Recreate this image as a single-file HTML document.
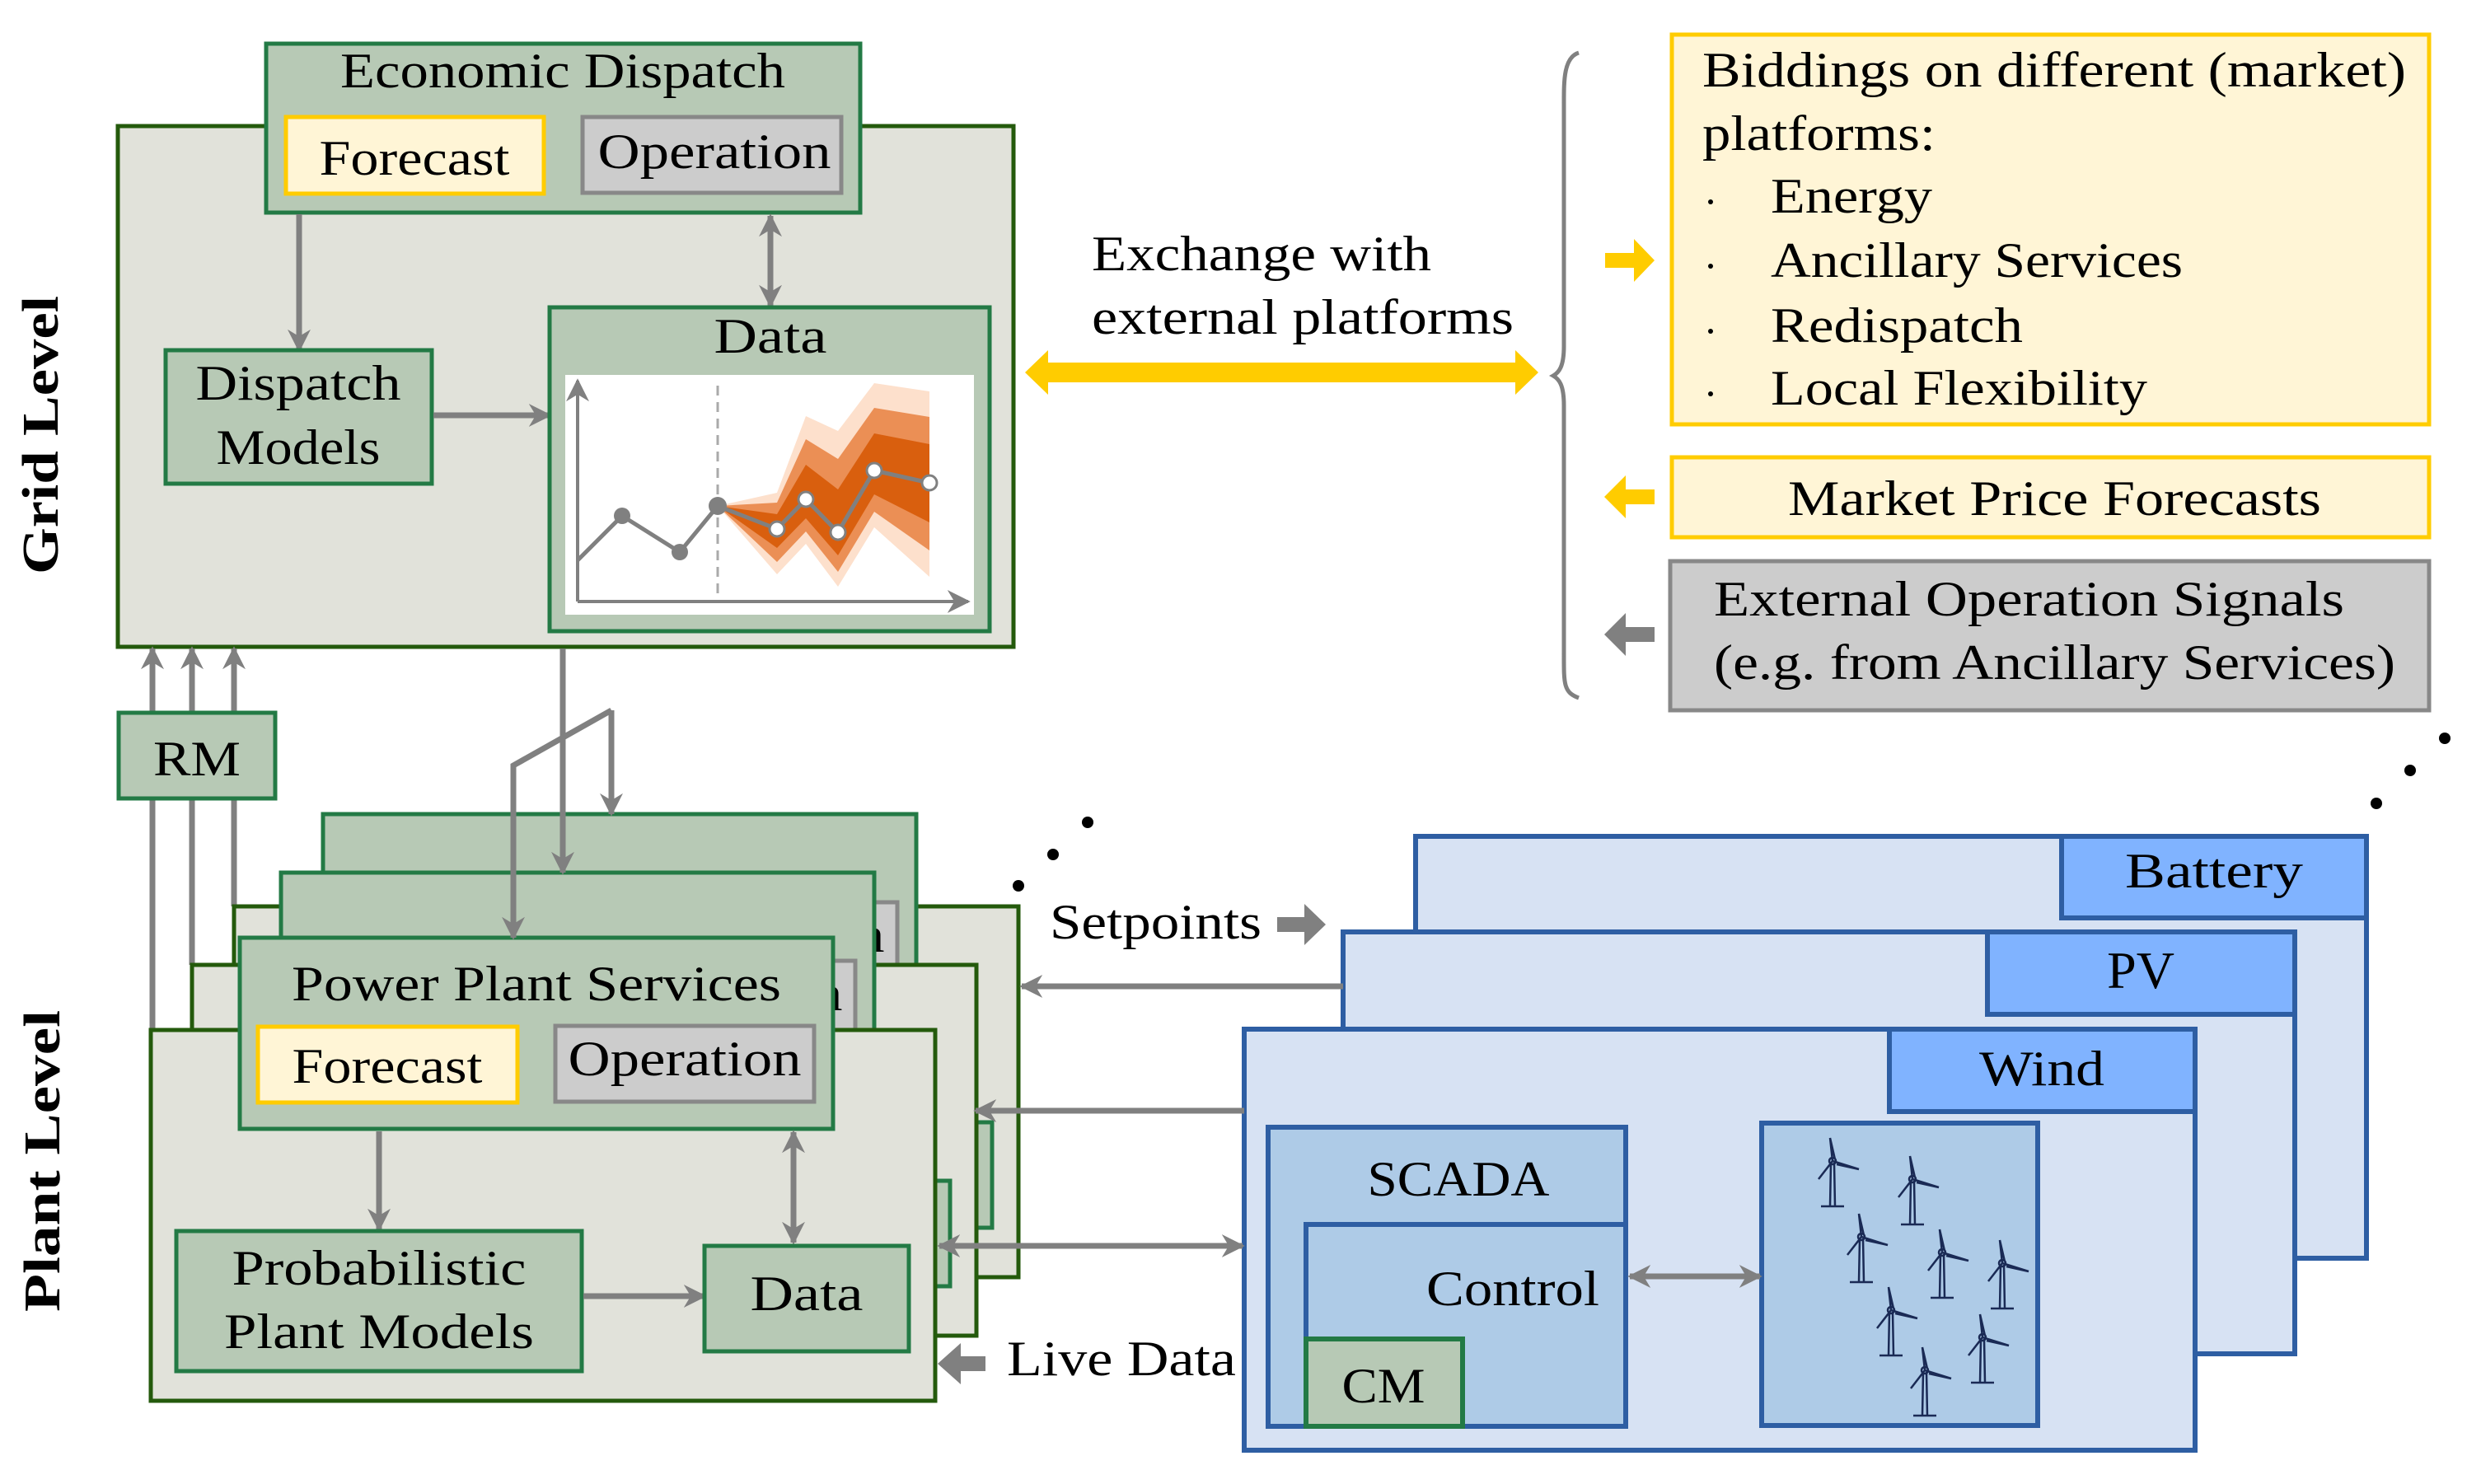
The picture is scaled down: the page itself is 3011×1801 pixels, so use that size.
<!DOCTYPE html>
<html><head><meta charset="utf-8"><style>html,body{margin:0;padding:0;background:#fff}svg{display:block}</style></head><body>
<svg width="3011" height="1801" viewBox="0 0 3011 1801" xmlns="http://www.w3.org/2000/svg" font-family="'Liberation Serif', serif" font-size="60">
<defs>
<marker id="ah" viewBox="0 0 10 10" refX="9" refY="5" markerWidth="28" markerHeight="30" markerUnits="userSpaceOnUse" orient="auto-start-reverse"><path d="M0,0 L10,5 L0,10 L3,5 z" fill="#808080"/></marker>
</defs>
<rect width="3011" height="1801" fill="#fff"/>

<!-- GRID LEVEL -->
<rect x="143" y="153" width="1087" height="632" fill="#e1e2da" stroke="#245a0c" stroke-width="5"/>
<rect x="323" y="53" width="721" height="205" fill="#b7c9b5" stroke="#237a45" stroke-width="5"/>
<text x="683" y="106" text-anchor="middle" textLength="540" lengthAdjust="spacingAndGlyphs">Economic Dispatch</text>
<rect x="347" y="142" width="313" height="93" fill="#fff5d6" stroke="#ffcc00" stroke-width="5"/>
<text x="503" y="212" text-anchor="middle" textLength="231" lengthAdjust="spacingAndGlyphs">Forecast</text>
<rect x="707" y="142" width="314" height="92" fill="#cccccc" stroke="#888" stroke-width="5"/>
<text x="867" y="204" text-anchor="middle" textLength="283" lengthAdjust="spacingAndGlyphs">Operation</text>
<line x1="363" y1="260" x2="363" y2="425" stroke="#808080" stroke-width="7" marker-end="url(#ah)"/>
<line x1="935" y1="262" x2="935" y2="371" stroke="#808080" stroke-width="7" marker-start="url(#ah)" marker-end="url(#ah)"/>
<rect x="201" y="425" width="323" height="162" fill="#b7c9b5" stroke="#237a45" stroke-width="5"/>
<text x="362" y="485" text-anchor="middle" textLength="249" lengthAdjust="spacingAndGlyphs">Dispatch</text>
<text x="362" y="563" text-anchor="middle" textLength="199" lengthAdjust="spacingAndGlyphs">Models</text>
<line x1="526" y1="504" x2="667" y2="504" stroke="#808080" stroke-width="7" marker-end="url(#ah)"/>
<rect x="667" y="373" width="534" height="393" fill="#b7c9b5" stroke="#237a45" stroke-width="5"/>
<text x="935" y="428" text-anchor="middle" textLength="137" lengthAdjust="spacingAndGlyphs">Data</text>
<rect x="686" y="455" width="496" height="291" fill="#fff"/>
<!-- chart -->
<polygon points="871,614 943,598 978,505 1017,523 1061,465 1128,475 1128,700 1061,640 1017,712 978,660 943,697" fill="#fde0cc"/>
<polygon points="871,614 943,610 978,533 1017,557 1061,495 1128,506 1128,668 1061,621 1017,694 978,645 943,682" fill="#eb8f55"/>
<polygon points="871,614 943,624 978,564 1017,594 1061,526 1128,539 1128,634 1061,600 1017,674 978,629 943,665" fill="#d95f0e"/>
<line x1="871" y1="468" x2="871" y2="730" stroke="#aaa" stroke-width="3" stroke-dasharray="12,8"/>
<line x1="701" y1="730" x2="701" y2="462" stroke="#808080" stroke-width="4" marker-end="url(#ah)"/>
<line x1="701" y1="730" x2="1175" y2="730" stroke="#808080" stroke-width="4" marker-end="url(#ah)"/>
<polyline points="701,680 755,626 825,670 871,614 943,642 978,606 1017,646 1061,571 1128,586" fill="none" stroke="#808080" stroke-width="5"/>
<circle cx="755" cy="626" r="10" fill="#808080"/><circle cx="825" cy="670" r="10" fill="#808080"/><circle cx="871" cy="614" r="11" fill="#808080"/>
<g fill="#fff" stroke="#808080" stroke-width="3"><circle cx="943" cy="642" r="9"/><circle cx="978" cy="606" r="9"/><circle cx="1017" cy="646" r="9"/><circle cx="1061" cy="571" r="9"/><circle cx="1128" cy="586" r="9"/></g>

<text transform="translate(70,528) rotate(-90)" text-anchor="middle" font-weight="bold" font-size="62" textLength="338" lengthAdjust="spacingAndGlyphs">Grid Level</text>
<text transform="translate(72,1409) rotate(-90)" text-anchor="middle" font-weight="bold" font-size="62" textLength="366" lengthAdjust="spacingAndGlyphs">Plant Level</text>

<!-- RM -->
<g stroke="#808080" stroke-width="7" fill="none">
<line x1="185" y1="1250" x2="185" y2="787" marker-end="url(#ah)"/>
<line x1="233" y1="1171" x2="233" y2="787" marker-end="url(#ah)"/>
<line x1="284" y1="1100" x2="284" y2="787" marker-end="url(#ah)"/>
</g>
<rect x="144" y="865" width="190" height="104" fill="#b7c9b5" stroke="#237a45" stroke-width="5"/>
<text x="239" y="941" text-anchor="middle" textLength="106" lengthAdjust="spacingAndGlyphs">RM</text>

<!-- PLANT LAYERS -->
<g transform="translate(101,-150)">
<rect x="183" y="1250" width="952" height="450" fill="#e1e2da" stroke="#245a0c" stroke-width="5"/>
<rect x="214" y="1494" width="492" height="170" fill="#b7c9b5" stroke="#237a45" stroke-width="5"/>
<rect x="855" y="1512" width="248" height="128" fill="#b7c9b5" stroke="#237a45" stroke-width="5"/>
<rect x="291" y="1138" width="720" height="232" fill="#b7c9b5" stroke="#237a45" stroke-width="5"/>
<rect x="313" y="1246" width="315" height="92" fill="#fff5d6" stroke="#ffcc00" stroke-width="5"/>
<rect x="674" y="1245" width="314" height="92" fill="#cccccc" stroke="#888" stroke-width="5"/>
<text x="831" y="1305" text-anchor="middle" textLength="283" lengthAdjust="spacingAndGlyphs">Operation</text>
</g>
<g transform="translate(50,-79)">
<rect x="183" y="1250" width="952" height="450" fill="#e1e2da" stroke="#245a0c" stroke-width="5"/>
<rect x="214" y="1494" width="492" height="170" fill="#b7c9b5" stroke="#237a45" stroke-width="5"/>
<rect x="855" y="1512" width="248" height="128" fill="#b7c9b5" stroke="#237a45" stroke-width="5"/>
<rect x="291" y="1138" width="720" height="232" fill="#b7c9b5" stroke="#237a45" stroke-width="5"/>
<rect x="313" y="1246" width="315" height="92" fill="#fff5d6" stroke="#ffcc00" stroke-width="5"/>
<rect x="674" y="1245" width="314" height="92" fill="#cccccc" stroke="#888" stroke-width="5"/>
<text x="831" y="1305" text-anchor="middle" textLength="283" lengthAdjust="spacingAndGlyphs">Operation</text>
</g>
<g>
<rect x="183" y="1250" width="952" height="450" fill="#e1e2da" stroke="#245a0c" stroke-width="5"/>
<rect x="291" y="1138" width="720" height="232" fill="#b7c9b5" stroke="#237a45" stroke-width="5"/>
<text x="651" y="1214" text-anchor="middle" textLength="594" lengthAdjust="spacingAndGlyphs">Power Plant Services</text>
<rect x="313" y="1246" width="315" height="92" fill="#fff5d6" stroke="#ffcc00" stroke-width="5"/>
<text x="470" y="1314" text-anchor="middle" textLength="231" lengthAdjust="spacingAndGlyphs">Forecast</text>
<rect x="674" y="1245" width="314" height="92" fill="#cccccc" stroke="#888" stroke-width="5"/>
<text x="831" y="1305" text-anchor="middle" textLength="283" lengthAdjust="spacingAndGlyphs">Operation</text>
<line x1="460" y1="1373" x2="460" y2="1492" stroke="#808080" stroke-width="7" marker-end="url(#ah)"/>
<line x1="963" y1="1374" x2="963" y2="1508" stroke="#808080" stroke-width="7" marker-start="url(#ah)" marker-end="url(#ah)"/>
<rect x="214" y="1494" width="492" height="170" fill="#b7c9b5" stroke="#237a45" stroke-width="5"/>
<text x="460" y="1559" text-anchor="middle" textLength="357" lengthAdjust="spacingAndGlyphs">Probabilistic</text>
<text x="460" y="1636" text-anchor="middle" textLength="376" lengthAdjust="spacingAndGlyphs">Plant Models</text>
<line x1="708" y1="1573" x2="855" y2="1573" stroke="#808080" stroke-width="7" marker-end="url(#ah)"/>
<rect x="855" y="1512" width="248" height="128" fill="#b7c9b5" stroke="#237a45" stroke-width="5"/>
<text x="979" y="1590" text-anchor="middle" textLength="137" lengthAdjust="spacingAndGlyphs">Data</text>
</g>

<!-- grid to plant connectors -->
<g stroke="#808080" stroke-width="7" fill="none">
<line x1="683" y1="787" x2="683" y2="1059" marker-end="url(#ah)"/>
<line x1="742" y1="862" x2="742" y2="988" marker-end="url(#ah)"/>
<polyline points="742,862 623,929 623,1138" marker-end="url(#ah)"/>
</g>

<!-- dots -->
<g fill="#000"><circle cx="1320" cy="998" r="7"/><circle cx="1278" cy="1037" r="7"/><circle cx="1236" cy="1075" r="7"/>
<circle cx="2967" cy="896" r="7"/><circle cx="2925" cy="935" r="7"/><circle cx="2884" cy="975" r="7"/></g>

<!-- BLUE PANELS -->
<rect x="1718" y="1015" width="1154" height="512" fill="#d7e2f3" stroke="#2e5ea3" stroke-width="6"/>
<rect x="2502" y="1015" width="370" height="99" fill="#80b3ff" stroke="#2e5ea3" stroke-width="6"/>
<text x="2687" y="1077" text-anchor="middle" textLength="216" lengthAdjust="spacingAndGlyphs">Battery</text>
<rect x="1630" y="1131" width="1155" height="512" fill="#d7e2f3" stroke="#2e5ea3" stroke-width="6"/>
<rect x="2412" y="1131" width="373" height="100" fill="#80b3ff" stroke="#2e5ea3" stroke-width="6"/>
<text x="2598" y="1199" text-anchor="middle" font-size="64">PV</text>
<rect x="1510" y="1249" width="1154" height="511" fill="#d7e2f3" stroke="#2e5ea3" stroke-width="6"/>
<rect x="2293" y="1249" width="371" height="100" fill="#80b3ff" stroke="#2e5ea3" stroke-width="6"/>
<text x="2478" y="1317" text-anchor="middle" textLength="152" lengthAdjust="spacingAndGlyphs">Wind</text>
<rect x="1539" y="1368" width="434" height="363" fill="#aecbe7" stroke="#2e5ea3" stroke-width="6"/>
<text x="1770" y="1451" text-anchor="middle" textLength="221" lengthAdjust="spacingAndGlyphs">SCADA</text>
<rect x="1585" y="1486" width="388" height="245" fill="#aecbe7" stroke="#2e5ea3" stroke-width="6"/>
<text x="1941" y="1584" text-anchor="end" textLength="210" lengthAdjust="spacingAndGlyphs">Control</text>
<rect x="1585" y="1625" width="190" height="106" fill="#b7c9b5" stroke="#237a45" stroke-width="6"/>
<text x="1679" y="1702" text-anchor="middle" textLength="101" lengthAdjust="spacingAndGlyphs">CM</text>
<rect x="2138" y="1363" width="335" height="367" fill="#aecbe7" stroke="#2e5ea3" stroke-width="6"/>
<line x1="1978" y1="1549" x2="2136" y2="1549" stroke="#808080" stroke-width="7" marker-start="url(#ah)" marker-end="url(#ah)"/>
<!-- turbines -->
<g fill="none" stroke="#1a2a55" stroke-width="2.5">
<g transform="translate(2224,1409)"><path d="M-2,2 L-3,55 M2,2 L3,55 M-14,55 L14,55 M0,0 L-3,-28 L3,-2 M0,0 L32,10 L5,4 M0,0 L-17,22 L-3,4"/><circle r="4"/></g>
<g transform="translate(2321,1431)"><path d="M-2,2 L-3,55 M2,2 L3,55 M-14,55 L14,55 M0,0 L-3,-28 L3,-2 M0,0 L32,10 L5,4 M0,0 L-17,22 L-3,4"/><circle r="4"/></g>
<g transform="translate(2259,1501)"><path d="M-2,2 L-3,55 M2,2 L3,55 M-14,55 L14,55 M0,0 L-3,-28 L3,-2 M0,0 L32,10 L5,4 M0,0 L-17,22 L-3,4"/><circle r="4"/></g>
<g transform="translate(2357,1520)"><path d="M-2,2 L-3,55 M2,2 L3,55 M-14,55 L14,55 M0,0 L-3,-28 L3,-2 M0,0 L32,10 L5,4 M0,0 L-17,22 L-3,4"/><circle r="4"/></g>
<g transform="translate(2430,1533)"><path d="M-2,2 L-3,55 M2,2 L3,55 M-14,55 L14,55 M0,0 L-3,-28 L3,-2 M0,0 L32,10 L5,4 M0,0 L-17,22 L-3,4"/><circle r="4"/></g>
<g transform="translate(2295,1590)"><path d="M-2,2 L-3,55 M2,2 L3,55 M-14,55 L14,55 M0,0 L-3,-28 L3,-2 M0,0 L32,10 L5,4 M0,0 L-17,22 L-3,4"/><circle r="4"/></g>
<g transform="translate(2406,1623)"><path d="M-2,2 L-3,55 M2,2 L3,55 M-14,55 L14,55 M0,0 L-3,-28 L3,-2 M0,0 L32,10 L5,4 M0,0 L-17,22 L-3,4"/><circle r="4"/></g>
<g transform="translate(2336,1663)"><path d="M-2,2 L-3,55 M2,2 L3,55 M-14,55 L14,55 M0,0 L-3,-28 L3,-2 M0,0 L32,10 L5,4 M0,0 L-17,22 L-3,4"/><circle r="4"/></g>
</g>

<!-- plant <-> blue connectors -->
<g stroke="#808080" stroke-width="7" fill="none">
<line x1="1630" y1="1197" x2="1240" y2="1197" marker-end="url(#ah)"/>
<line x1="1510" y1="1348" x2="1184" y2="1348" marker-end="url(#ah)"/>
<line x1="1140" y1="1512" x2="1508" y2="1512" marker-start="url(#ah)" marker-end="url(#ah)"/>
</g>
<text x="1274" y="1139" textLength="257" lengthAdjust="spacingAndGlyphs">Setpoints</text>
<polygon points="1550,1113 1583,1113 1583,1097 1609,1122 1583,1147 1583,1131 1550,1131" fill="#808080"/>
<text x="1222" y="1669" textLength="278" lengthAdjust="spacingAndGlyphs">Live Data</text>
<polygon points="1196,1646 1166,1646 1166,1630 1138,1655 1166,1680 1166,1664 1196,1664" fill="#808080"/>

<!-- EXTERNAL -->
<text x="1325" y="328" textLength="412" lengthAdjust="spacingAndGlyphs">Exchange with</text>
<text x="1325" y="405" textLength="512" lengthAdjust="spacingAndGlyphs">external platforms</text>
<polygon points="1244,452 1272,425 1272,440 1839,440 1839,425 1867,452 1839,479 1839,464 1272,464 1272,479" fill="#ffcc00"/>
<path d="M1916,64 C1897,70 1898,100 1898,130 L1898,420 C1898,445 1892,452 1885,456 C1892,460 1898,467 1898,492 L1898,790 C1898,830 1897,840 1916,847" fill="none" stroke="#808080" stroke-width="5"/>

<rect x="2029" y="42" width="919" height="473" fill="#fff5d6" stroke="#ffcc00" stroke-width="5"/>
<text x="2066" y="105" textLength="854" lengthAdjust="spacingAndGlyphs">Biddings on different (market)</text>
<text x="2066" y="182" textLength="283" lengthAdjust="spacingAndGlyphs">platforms:</text>
<g fill="#000"><circle cx="2076" cy="245" r="3"/><circle cx="2076" cy="323" r="3"/><circle cx="2076" cy="402" r="3"/><circle cx="2076" cy="478" r="3"/></g>
<text x="2149" y="258" textLength="196" lengthAdjust="spacingAndGlyphs">Energy</text>
<text x="2149" y="336" textLength="500" lengthAdjust="spacingAndGlyphs">Ancillary Services</text>
<text x="2149" y="415" textLength="306" lengthAdjust="spacingAndGlyphs">Redispatch</text>
<text x="2149" y="491" textLength="457" lengthAdjust="spacingAndGlyphs">Local Flexibility</text>
<polygon points="1948,307 1983,307 1983,290 2008,316 1983,342 1983,325 1948,325" fill="#ffcc00"/>

<rect x="2029" y="555" width="919" height="97" fill="#fff5d6" stroke="#ffcc00" stroke-width="5"/>
<text x="2170" y="625" textLength="647" lengthAdjust="spacingAndGlyphs">Market Price Forecasts</text>
<polygon points="2008,594 1973,594 1973,577 1947,603 1973,629 1973,612 2008,612" fill="#ffcc00"/>

<rect x="2027" y="681" width="921" height="181" fill="#cccccc" stroke="#888" stroke-width="5"/>
<text x="2080" y="747" textLength="765" lengthAdjust="spacingAndGlyphs">External Operation Signals</text>
<text x="2080" y="824" textLength="827" lengthAdjust="spacingAndGlyphs">(e.g. from Ancillary Services)</text>
<polygon points="2008,761 1973,761 1973,744 1947,770 1973,796 1973,779 2008,779" fill="#808080"/>
</svg>
</body></html>
